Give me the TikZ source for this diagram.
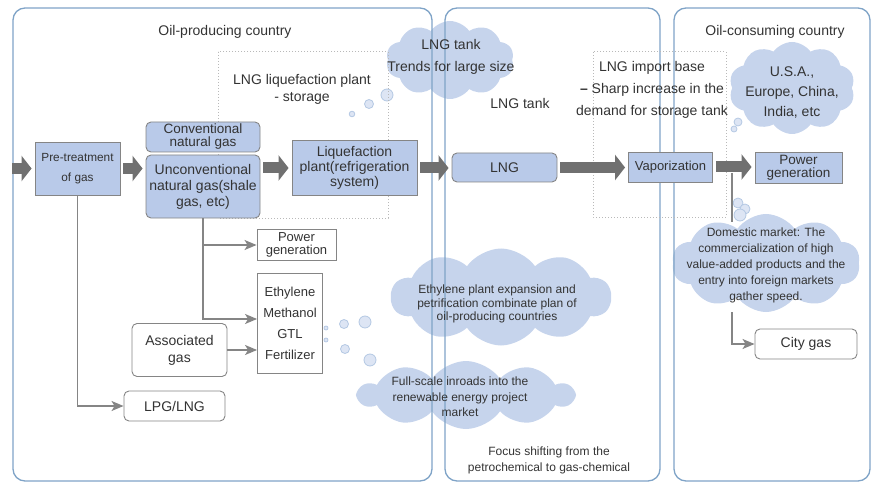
\documentclass[tikz,border=0pt]{standalone}
\usepackage{fontspec}
\setmainfont{Liberation Sans}
\usetikzlibrary{arrows.meta,shapes.symbols,positioning}

\definecolor{panelblue}{HTML}{7FA3C7}
\definecolor{boxblue}{HTML}{B9CAE9}
\definecolor{cloudblue}{HTML}{C6D4EC}
\definecolor{arrowgray}{HTML}{707070}
\definecolor{linegray}{HTML}{858585}
\definecolor{txt}{HTML}{333333}

\tikzset{
  panel/.style={draw=panelblue, line width=1.3pt, rounded corners=12pt},
  proc/.style={draw=linegray, fill=boxblue, line width=0.9pt, align=center, inner sep=1pt, text=txt},
  rproc/.style={proc, rounded corners=5pt},
  plainbox/.style={draw=linegray, fill=white, line width=0.9pt, align=center, inner sep=1pt, text=txt},
  rplain/.style={plainbox, rounded corners=5pt},
  flow/.style={draw=arrowgray, line width=11pt, -{Triangle[length=10pt,width=25pt]}, shorten <=3pt, shorten >=3pt},
  feed/.style={draw=linegray, line width=1.5pt, -{Stealth[length=12pt,width=10pt,inset=3pt]}},
  feedline/.style={draw=linegray, line width=1.5pt},
  dotbox/.style={draw=gray!55, dotted, line width=1pt},
  thought/.style={cloud, cloud puffs=10, cloud puff arc=110, cloud ignores aspect, fill=cloudblue, inner sep=0pt},
  bubble/.style={draw=cloudblue!75!panelblue, fill=cloudblue!60, line width=0.8pt},
  caption/.style={text=txt, align=center, inner sep=0pt},
}

\begin{document}
\begin{tikzpicture}[x=1pt, y=-1pt, font=\fontsize{14}{15}\selectfont]
    \useasboundingbox (0,0) rectangle (876,484);

    % Clouds and thought bubbles
    \node[thought, minimum width=128pt, minimum height=78pt] (tankcloud) at (450,60) {};
    \node[thought, minimum width=126pt, minimum height=92pt] (marketcloud) at (792,88) {};
    \node[thought, minimum width=188pt, minimum height=98pt] (dom) at (766,263) {};
    \node[thought, minimum width=220pt, minimum height=97pt] (ethcloud) at (501,297) {};
    \node[thought, minimum width=215pt, minimum height=68pt] (renewcloud) at (466,395) {};
    \foreach \x/\y/\r in {387/95/6, 369/104/4.5, 352/114/2.8,
                          738/122/4, 734/129/3,
                          738/203/5, 745/209/5, 740/215/6,
                          326/328/2, 326/340/2, 344/324/4.5, 365/322/6, 345/349/4.5, 370/360/6}
        \filldraw[bubble] (\x,\y) circle (\r pt);

    % Country panels
    \draw[panel] (13,8) rectangle (432,481);
    \draw[panel] (445,8) rectangle (660,481);
    \draw[panel] (674,8) rectangle (870,481);

    % Dotted plant areas
    \draw[dotbox] (218,52) rectangle (388,218);
    \draw[dotbox] (593,52) rectangle (726,217);

    % Labels
    \node[caption] (prodtitle) at (225,32) {Oil-producing country};
    \node[caption] (constitle) at (775,32) {Oil-consuming country};
    \node[caption, font=\fontsize{14}{17}\selectfont] (liqbase) at (302,89) {LNG liquefaction plant\\- storage};
    \node[caption] (tanklabel) at (520,103) {LNG tank};
    \node[caption, font=\fontsize{14}{22}\selectfont] (importbase) at (652,90) {LNG import base\\\textbf{--} Sharp increase in the\\demand for storage tank};
    \node[caption, font=\fontsize{14}{22}\selectfont] (tanktext) at (451,57) {LNG tank\\Trends for large size};
    \node[caption, font=\fontsize{14}{20}\selectfont] (markettext) at (792,93) {U.S.A.,\\Europe, China,\\India, etc};
    \node[caption, font=\fontsize{12}{16}\selectfont] (domtext) at (766,265) {Domestic market: The\\commercialization of high\\value-added products and the\\entry into foreign markets\\gather speed.};
    \node[caption, font=\fontsize{12}{13.5}\selectfont] (ethtext) at (497,304) {Ethylene plant expansion and\\petrification combinate plan of\\oil-producing countries};
    \node[caption, font=\fontsize{12}{15.5}\selectfont] (renewtext) at (460,397) {Full-scale inroads into the\\renewable energy project\\market};
    \node[caption, font=\fontsize{12}{16}\selectfont] (focustext) at (549,460) {Focus shifting from the\\petrochemical to gas-chemical};

    % Process boxes
    \node[proc, minimum width=85pt, minimum height=53pt, font=\fontsize{11.8}{20}\selectfont] (pretreat) at (77.5,168.5) {Pre-treatment\\of gas};
    \node[rproc, minimum width=114pt, minimum height=30pt, font=\fontsize{13.5}{13}\selectfont] (conv) at (203,137) {Conventional\\natural gas};
    \node[rproc, minimum width=114pt, minimum height=63pt, font=\fontsize{14}{16}\selectfont] (unconv) at (203,186.5) {Unconventional\\natural gas(shale\\gas, etc)};
    \node[proc, minimum width=125pt, minimum height=55pt] (liquef) at (354.5,168) {Liquefaction\\plant(refrigeration\\system)};
    \node[rproc, minimum width=105pt, minimum height=29pt] (lng) at (504.5,167.5) {LNG};
    \node[proc, minimum width=84pt, minimum height=30pt, font=\fontsize{13}{15}\selectfont] (vapor) at (670.5,167) {Vaporization};
    \node[proc, minimum width=87pt, minimum height=31pt, font=\fontsize{13.5}{13}\selectfont] (powerout) at (798.5,167.5) {Power\\generation};
    \node[plainbox, minimum width=79pt, minimum height=31pt, font=\fontsize{13}{13}\selectfont] (powerin) at (296.5,245) {Power\\generation};
    \node[plainbox, minimum width=65pt, minimum height=100pt, font=\fontsize{13}{21}\selectfont] (chem) at (290,323) {Ethylene\\Methanol\\GTL\\Fertilizer};
    \node[rplain, minimum width=95pt, minimum height=53pt, font=\fontsize{14}{17}\selectfont] (assoc) at (179.5,350) {Associated\\gas};
    \node[rplain, minimum width=101pt, minimum height=30pt] (lpg) at (174.5,406) {LPG/LNG};
    \node[rplain, minimum width=102pt, minimum height=30pt] (city) at (806,344) {City gas};

    % Main flow
    \coordinate (entry) at (9,168.5);
    \draw[flow] (entry) -- (pretreat.west);
    \draw[flow] (pretreat.east) -- (pretreat.east -| unconv.west);
    \draw[flow] (unconv.east |- liquef.west) -- (liquef.west);
    \draw[flow] (liquef.east) -- (liquef.east -| lng.west);
    \draw[flow] (lng.east) -- (lng.east -| vapor.west);
    \draw[flow] (vapor.east) -- (vapor.east -| powerout.west);

    % Branches
    \draw[feed] (pretreat.south) |- (lpg.west);
    \draw[feed] (unconv.south) |- (powerin.west);
    \draw[feed] (unconv.south) |- ([yshift=4pt]chem.west);
    \draw[feed] (assoc.east) -- (assoc.east -| chem.west);
    \coordinate (tap) at (732,173);
    \coordinate (domtop) at (732,222);
    \draw[feedline] (tap) -- (domtop);
    \draw[feed] (tap |- dom.south) |- (city.west);
\end{tikzpicture}
\end{document}
